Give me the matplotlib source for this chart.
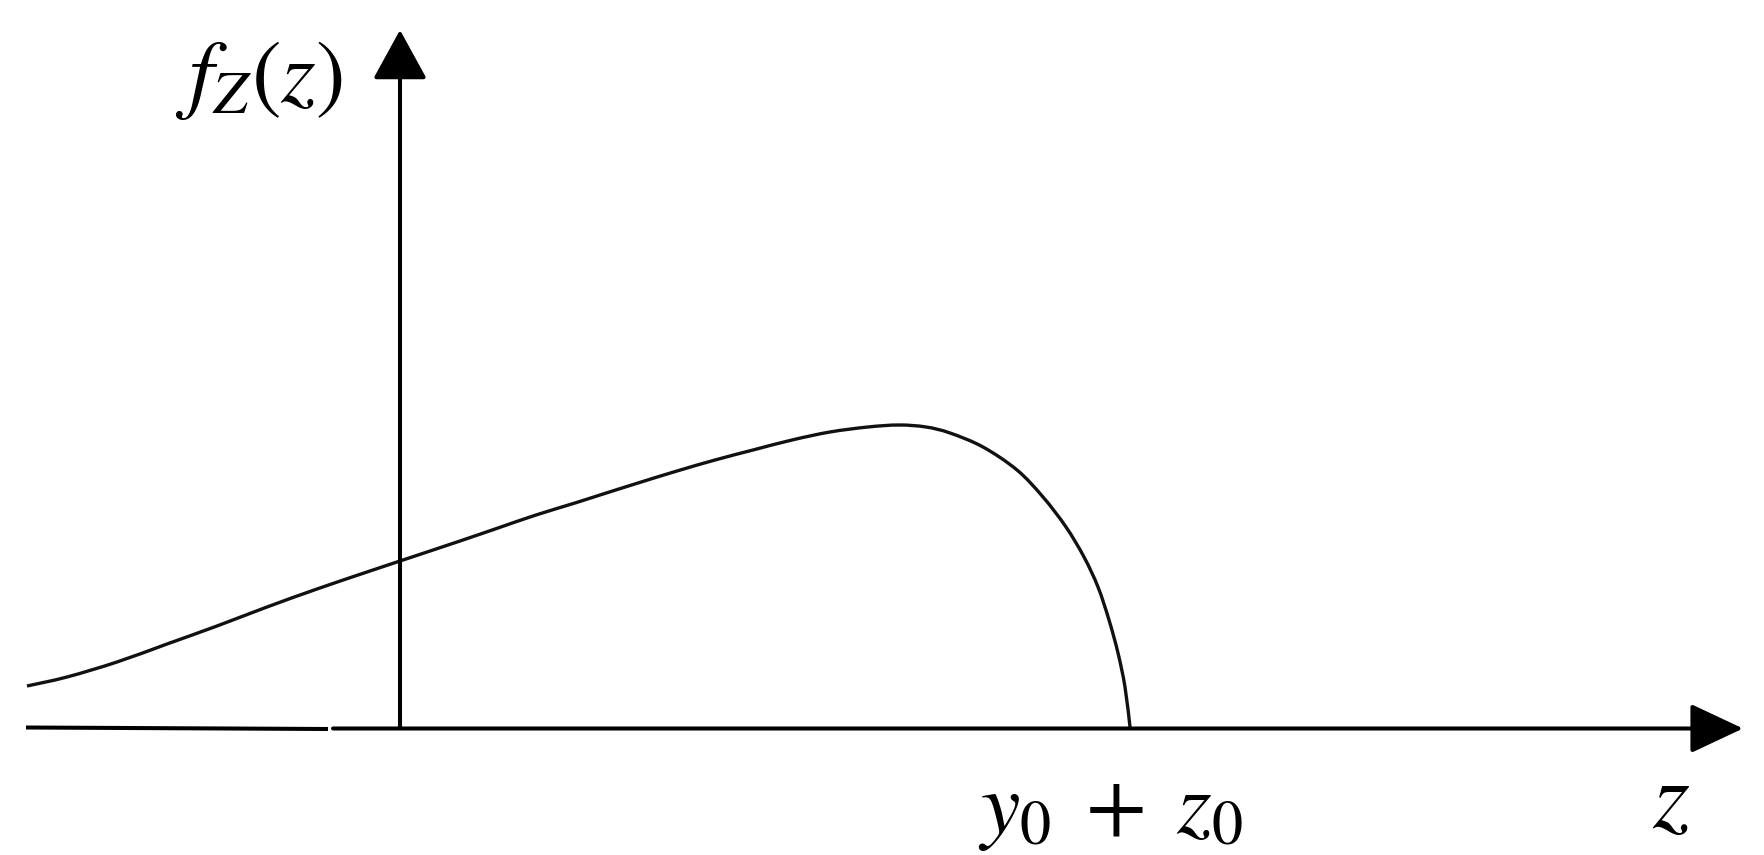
import matplotlib
matplotlib.use("Agg")
import matplotlib.pyplot as plt
import numpy as np
from matplotlib.path import Path
from matplotlib.patches import PathPatch

# Curve data (z, f_Z(z)), arbitrary units; y-axis at z=0, x-axis at f=0
z_vals = [-3.73, -3.33, -2.83, -2.33, -1.83, -1.33, -0.83, -0.33, 0.00, 0.60,
          0.98, 1.36, 1.75, 2.00, 2.38, 2.77, 3.15, 3.53, 3.92, 4.30,
          4.68, 4.99, 5.26, 5.50, 5.83, 6.17, 6.43, 6.66, 6.84, 6.98,
          7.09, 7.18, 7.25, 7.30]
f_vals = [0.41, 0.50, 0.65, 0.83, 1.01, 1.20, 1.38, 1.55, 1.66, 1.86,
          1.99, 2.12, 2.24, 2.32, 2.44, 2.56, 2.67, 2.77, 2.87, 2.95,
          3.00, 3.02, 3.00, 2.94, 2.80, 2.57, 2.30, 2.00, 1.70, 1.40,
          1.07, 0.74, 0.40, 0.00]

# axis extents
x_axis_start, x_axis_gap_l, x_axis_gap_r, x_axis_end = -3.74, -0.72, -0.67, 13.43
y_axis_top = 6.97

y_label = r"$f_Z(z)$"
x_label = r"$z$"
mark_label = r"$y_0\;+\;z_0$"

plt.rcParams['mathtext.fontset'] = 'stix'

fig = plt.figure(figsize=(17.64, 8.55), dpi=100)
ax = fig.add_axes([0, 0, 1, 1])
ax.set_xlim(-4.00, 13.64)
ax.set_ylim(-1.28, 7.27)
ax.axis('off')

axis_lw = 2.9
# x-axis: two segments with small gap, final one with arrow
ax.plot([x_axis_start, x_axis_gap_l], [-0.005, -0.02], color='black', lw=axis_lw,
        solid_capstyle='butt')
ax.annotate('', xy=(x_axis_end, -0.015), xytext=(x_axis_gap_r, -0.015),
            arrowprops=dict(arrowstyle='-|>,head_length=33,head_width=15.5',
                            lw=axis_lw, color='black', shrinkA=0, shrinkB=0,
                            mutation_scale=1))
# y-axis
ax.annotate('', xy=(0, y_axis_top), xytext=(0, 0),
            arrowprops=dict(arrowstyle='-|>,head_length=31,head_width=17',
                            lw=axis_lw, color='black', shrinkA=0, shrinkB=0,
                            mutation_scale=1))

# smooth curve through the points (Catmull-Rom as cubic Bezier segments)
P = np.column_stack([z_vals, f_vals])
Pext = np.vstack([P[0], P, P[-1]])
verts = [tuple(P[0])]
codes = [Path.MOVETO]
for i in range(len(P) - 1):
    p0, p1, p2, p3 = Pext[i], Pext[i + 1], Pext[i + 2], Pext[i + 3]
    c1 = p1 + (p2 - p0) / 6.0
    c2 = p2 - (p3 - p1) / 6.0
    verts += [tuple(c1), tuple(c2), tuple(p2)]
    codes += [Path.CURVE4] * 3
ax.add_patch(PathPatch(Path(verts, codes), fill=False, edgecolor='#111111',
                       lw=2.4, joinstyle='round'))

# labels
ax.text(-1.41, 6.48, y_label, fontsize=64, ha='center', va='center', color='black')
ax.text(z_vals[-1] - 0.19, -0.82, mark_label, fontsize=64, ha='center', va='center',
        color='black')
ax.text(12.71, -0.74, x_label, fontsize=68, ha='center', va='center', color='black')

fig.savefig('out.png', dpi=100, facecolor='white')
